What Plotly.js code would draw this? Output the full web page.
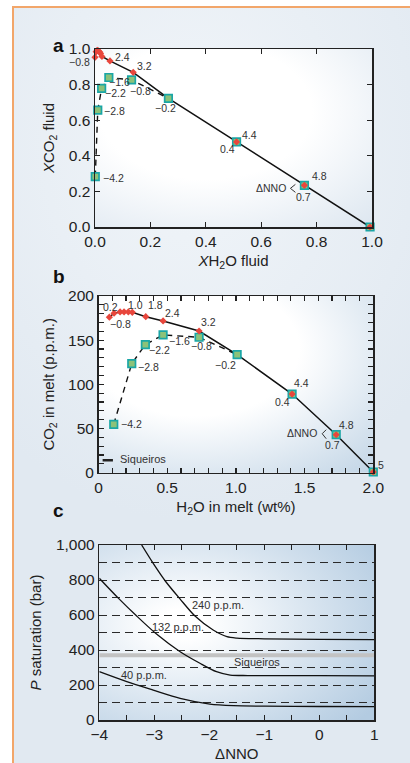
<!DOCTYPE html>
<html><head><meta charset="utf-8">
<script src="https://cdn.plot.ly/plotly-3.0.1.min.js"></script>
<style>
html,body{margin:0;padding:0;width:410px;height:763px;overflow:hidden;background:#fff;}
#frame{position:absolute;left:12px;top:6px;width:398px;height:757px;box-sizing:border-box;border-top:2px solid #f2a66a;border-left:2px solid #f2a66a;background:radial-gradient(ellipse 75% 50% at 45% 18%, #f1f5f9 0%, #e1e9f1 100%);}
#chart{position:absolute;left:0;top:0;width:410px;height:763px;}
</style></head>
<body><div id="frame"></div><div id="chart"></div>
<script>
// ---------- Panel a: fluid composition ----------
const aRedX  = [0.000, 0.004, 0.008, 0.012, 0.017, 0.020, 0.025, 0.054, 0.138, 0.511, 0.756, 0.993];
const aRedY  = [0.953, 0.985, 0.993, 0.990, 0.983, 0.975, 0.958, 0.933, 0.869, 0.478, 0.234, 0.000];
const aRedLab = ['−0.8','','','','','','','2.4','3.2','4.4','4.8',''];
const aTealX = [0.001, 0.010, 0.024, 0.050, 0.132, 0.265, 0.511, 0.756, 0.993];
const aTealY = [0.283, 0.657, 0.779, 0.840, 0.826, 0.723, 0.478, 0.234, 0.000];
const aTealLab = ['−4.2','−2.8','−2.2','−1.6','−0.8','−0.2','0.4','0.7',''];

// ---------- Panel b: melt composition ----------
const bRedX  = [0.079, 0.113, 0.157, 0.186, 0.217, 0.246, 0.344, 0.470, 0.732, 1.409, 1.730, 2.000];
const bRedY  = [176, 180.5, 182, 182, 182, 181.5, 176.6, 171.8, 160.4, 89, 43, 0.8];
const bRedLab = ['−0.8','0.2','','','','1.0','1.8','2.4','3.2','4.4','4.8','5'];
const bTealX = [0.111, 0.242, 0.341, 0.470, 0.732, 1.009, 1.409, 1.730, 2.000];
const bTealY = [54.8, 123.4, 145, 155.9, 153.3, 133.6, 89, 43, 0.8];
const bTealLab = ['−4.2','−2.8','−2.2','−1.6','−0.8','−0.2','0.4','0.7',''];
const bSiqX = [0.03, 0.105];
const bSiqY = [14, 14];

// ---------- Panel c: saturation pressure ----------
const c240X = [-3.23, -3.02, -2.79, -2.53, -2.26, -1.93, -1.68, -1.5, -1.0, 0, 1];
const c240Y = [1000, 895, 790, 691, 594, 514, 476, 468, 464, 461, 459];
const c132X = [-4, -3.65, -3.32, -2.96, -2.53, -2.17, -1.87, -1.62, -1.3, 0, 1];
const c132Y = [810, 695, 594, 491, 390, 324, 276, 257, 254, 253, 252];
const c40X  = [-4, -3.5, -3.02, -2.53, -1.99, -1.56, -1.0, 0, 1];
const c40Y  = [276, 219, 171, 124, 91, 82, 79, 77, 76];
const cSiqX = [-4, 1];
const cSiqY = [370, 370];
const cLabText = ['240 p.p.m.', '132 p.p.m.', '40 p.p.m.', 'Siqueiros'];
const cLabX = [-1.84, -2.57, -3.19, -1.13];
const cLabY = [657, 533, 257, 333];

// ---------- label offsets (style, not data) ----------
const aRedOff = [['right',-3,-5],null,null,null,null,null,null,['left',3,4],['left',2,6],['left',3,7],['left',6,9],null];
const aTealOff = [['left',6,-1],['left',4,-1],['left',1,-5],['left',-2,-5],['left',-4,-11],['center',-3,-10],['right',0,-7],['center',-1,-12],null];
const bRedOff = [['left',-1,-7],['center',-4,6],null,null,null,['center',3,7],['left',0,12],['left',0,8],['left',0,9],['left',0,11],['left',1,10],['left',3,7]];
const bTealOff = [['left',5,0],['left',4,-3],['left',2,-5],['left',4,-6],['center',2,-9],['right',1,-10],['right',0,-8],['center',-4,-10],null];

const W = 410, H = 763;
const FONT = 'Liberation Sans, Arial, Helvetica, sans-serif';
const INK = '#222';
const RED = '#e8463c', TEAL_LINE = '#1aa6a6', TEAL_FILL = '#8cc279';

const dom = {
  a: {x:[95/W, 372/W], y:[1-227/H, 1-49/H]},
  b: {x:[98.5/W, 373.3/W], y:[1-472.7/H, 1-296/H]},
  c: {x:[99.3/W, 374.3/W], y:[1-720/H, 1-545/H]}
};

function solidPath(rx, tx){ return rx.slice(0,9).concat(tx.slice(5)); }
function dashPath(tx){ return tx.slice(0,6); }

function panelTraces(rx, ry, tx, ty, xa, ya){
  return [
    {x: dashPath(tx), y: dashPath(ty), mode:'lines', xaxis:xa, yaxis:ya, cliponaxis:false,
     line:{color:'#111', width:1.4, dash:'6px,5px'}, hoverinfo:'skip'},
    {x: solidPath(rx, tx), y: solidPath(ry, ty), mode:'lines', xaxis:xa, yaxis:ya, cliponaxis:false,
     line:{color:'#111', width:1.5}, hoverinfo:'skip'},
    {x: tx, y: ty, mode:'markers', xaxis:xa, yaxis:ya, cliponaxis:false,
     marker:{symbol:'square', size:7.5, color:TEAL_FILL, line:{color:TEAL_LINE, width:1.7}}},
    {x: rx, y: ry, mode:'markers', xaxis:xa, yaxis:ya, cliponaxis:false,
     marker:{symbol:'diamond', size:5.5, color:RED}}
  ];
}

const traces = [].concat(
  panelTraces(aRedX, aRedY, aTealX, aTealY, 'x', 'y'),
  panelTraces(bRedX, bRedY, bTealX, bTealY, 'x2', 'y2'),
  [{x: bSiqX, y: bSiqY, mode:'lines', xaxis:'x2', yaxis:'y2', line:{color:'#222', width:2.5}}],
  [
    {x: cSiqX, y: cSiqY, mode:'lines', xaxis:'x3', yaxis:'y3', line:{color:'#c2c2c2', width:4}},
    {x: c240X, y: c240Y, mode:'lines', xaxis:'x3', yaxis:'y3', line:{color:'#111', width:1.3, shape:'spline', smoothing:0.8}},
    {x: c132X, y: c132Y, mode:'lines', xaxis:'x3', yaxis:'y3', line:{color:'#111', width:1.3, shape:'spline', smoothing:0.8}},
    {x: c40X,  y: c40Y,  mode:'lines', xaxis:'x3', yaxis:'y3', line:{color:'#111', width:1.3, shape:'spline', smoothing:0.8}}
  ]
);

function pointLabels(xs, ys, labs, offs, xr, yr){
  const out = [];
  labs.forEach((t,i)=>{
    if(!t || !offs[i]) return;
    const o = offs[i];
    out.push({xref:xr, yref:yr, x:xs[i], y:ys[i], text:t, showarrow:false,
      xanchor:o[0], yanchor:'middle', xshift:o[1], yshift:o[2],
      font:{size:10.5, color:'#333', family:FONT}});
  });
  return out;
}

const annotations = [].concat(
  pointLabels(aRedX, aRedY, aRedLab, aRedOff, 'x', 'y'),
  pointLabels(aTealX, aTealY, aTealLab, aTealOff, 'x', 'y'),
  pointLabels(bRedX, bRedY, bRedLab, bRedOff, 'x2', 'y2'),
  pointLabels(bTealX, bTealY, bTealLab, bTealOff, 'x2', 'y2'),
  [
    {xref:'x', yref:'y', x:aTealX[7], y:aTealY[7], text:'ΔNNO', showarrow:false, xanchor:'right', yanchor:'middle', xshift:-16, yshift:-3, font:{size:10.5,color:'#333',family:FONT}},
    {xref:'x2', yref:'y2', x:bTealX[7], y:bTealY[7], text:'ΔNNO', showarrow:false, xanchor:'right', yanchor:'middle', xshift:-17, yshift:2, font:{size:10.5,color:'#333',family:FONT}},
    {xref:'x2', yref:'y2', x:bSiqX[1], y:bSiqY[1], text:'Siqueiros', showarrow:false, xanchor:'left', yanchor:'middle', xshift:5, yshift:1, font:{size:11,color:'#333',family:FONT}}
  ],
  cLabText.map((t,i)=>({xref:'x3', yref:'y3', x:cLabX[i], y:cLabY[i], text:t, showarrow:false, xanchor:'center', yanchor:'middle', font:{size:11,color:'#333',family:FONT}})),
  [
    {xref:'paper', yref:'paper', x:51/W, y:1-33/H, text:'<b>a</b>', showarrow:false, font:{size:19,color:'#111',family:FONT}},
    {xref:'paper', yref:'paper', x:51/W, y:1-277/H, text:'<b>b</b>', showarrow:false, font:{size:19,color:'#111',family:FONT}},
    {xref:'paper', yref:'paper', x:51/W, y:1-523/H, text:'<b>c</b>', showarrow:false, font:{size:19,color:'#111',family:FONT}}
  ]
);

const shapes = [
  {type:'path', xref:'x', yref:'y', xsizemode:'pixel', ysizemode:'pixel', xanchor:aTealX[7], yanchor:aTealY[7],
   path:'M -9,1 L -14,-3 L -9,-7', line:{color:'#333', width:1}},
  {type:'path', xref:'x2', yref:'y2', xsizemode:'pixel', ysizemode:'pixel', xanchor:bTealX[7], yanchor:bTealY[7],
   path:'M -10,5 L -14,1 L -10,-4', line:{color:'#333', width:1}}
];

function gradSvg(cx, cy, r, inner, outer, stop){
  const s = '<svg xmlns="http://www.w3.org/2000/svg" width="200" height="200" viewBox="0 0 200 200" preserveAspectRatio="none">'+
    '<defs><radialGradient id="g" cx="'+cx+'" cy="'+cy+'" r="'+r+'"><stop offset="'+stop+'" stop-color="'+inner+'"/><stop offset="1" stop-color="'+outer+'"/></radialGradient></defs>'+
    '<rect width="200" height="200" fill="url(#g)"/></svg>';
  return 'data:image/svg+xml;charset=utf-8,' + encodeURIComponent(s);
}
function bgImage(d, src){
  return {source:src, xref:'paper', yref:'paper', x:d.x[0], y:d.y[1], sizex:d.x[1]-d.x[0], sizey:d.y[1]-d.y[0],
          xanchor:'left', yanchor:'top', sizing:'stretch', layer:'below'};
}
const images = [
  bgImage(dom.a, gradSvg(0.4, 0.35, 0.85, '#ffffff', '#dfe8f1', 0.45)),
  bgImage(dom.b, gradSvg(0.35, 0.3, 0.95, '#ffffff', '#c2d5e6', 0.4)),
  bgImage(dom.c, gradSvg(0.3, 0.45, 0.85, '#ffffff', '#b3cbe1', 0.1))
];

const tickFont = {size:15.5, color:INK, family:FONT};
const titleFont = {size:15, color:INK, family:FONT};
function ax(extra){
  return Object.assign({showline:true, linecolor:INK, linewidth:1.5, mirror:'ticks', ticks:'inside', ticklen:5,
    tickwidth:1.2, tickcolor:INK, showgrid:false, zeroline:false, tickfont:tickFont, fixedrange:true}, extra);
}

const layout = {
  width: W, height: H, margin:{l:0, r:0, t:0, b:0},
  paper_bgcolor:'rgba(0,0,0,0)', plot_bgcolor:'rgba(0,0,0,0)',
  showlegend:false, font:{family:FONT, color:INK},
  xaxis: ax({domain:dom.a.x, anchor:'y', range:[0,1], dtick:0.2, tickformat:'.1f',
    title:{text:'<i>X</i>H<sub>2</sub>O fluid', font:titleFont, standoff:6}}),
  yaxis: ax({domain:dom.a.y, anchor:'x', range:[0,1], dtick:0.2, tickformat:'.1f',
    title:{text:'<i>X</i>CO<sub>2</sub> fluid', font:titleFont, standoff:10}}),
  xaxis2: ax({domain:dom.b.x, anchor:'y2', range:[0,2], dtick:0.5, tickformat:'.1f', labelalias:{'0.0':'0'},
    minor:{dtick:0.1, ticks:'inside', ticklen:5, tickcolor:INK, tickwidth:1.2},
    title:{text:'H<sub>2</sub>O in melt (wt%)', font:titleFont, standoff:6}}),
  yaxis2: ax({domain:dom.b.y, anchor:'x2', range:[0,200], dtick:50,
    minor:{dtick:10, ticks:'inside', ticklen:5, tickcolor:INK, tickwidth:1.2},
    title:{text:'CO<sub>2</sub> in melt (p.p.m.)', font:titleFont, standoff:10}}),
  xaxis3: ax({domain:dom.c.x, anchor:'y3', range:[-4,1], dtick:1,
    minor:{dtick:0.5, ticks:'inside', ticklen:5, tickcolor:INK, tickwidth:1.2},
    title:{text:'ΔNNO', font:titleFont, standoff:6}}),
  yaxis3: ax({domain:dom.c.y, anchor:'x3', range:[0,1000], dtick:200, separatethousands:true,
    ticks:'', mirror:true,
    showgrid:true, gridcolor:'#2a2a2a', gridwidth:1, griddash:'8px,5px',
    minor:{dtick:100, showgrid:true, gridcolor:'#2a2a2a', gridwidth:1, griddash:'8px,5px'},
    title:{text:'<i>P</i> saturation (bar)', font:titleFont, standoff:10}}),
  annotations, shapes, images
};

Plotly.newPlot('chart', traces, layout, {staticPlot:true, displayModeBar:false});
</script></body></html>
